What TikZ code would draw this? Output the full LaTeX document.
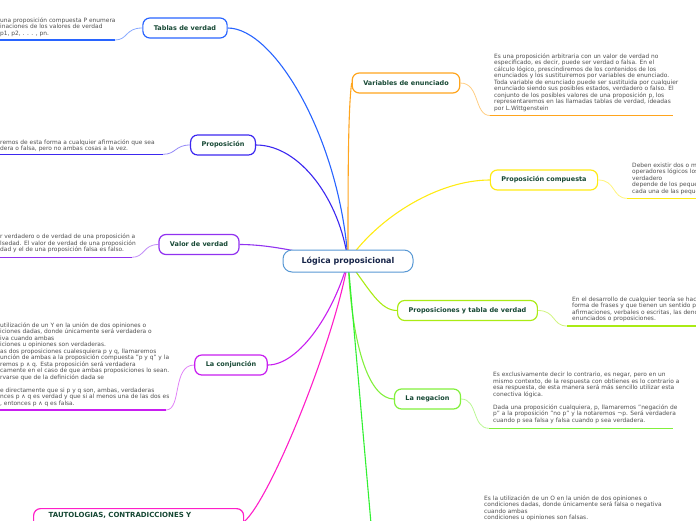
\documentclass[tikz,border=0pt]{standalone}
\usepackage{fontspec}
\setmainfont{DejaVu Sans}
\usetikzlibrary{backgrounds}
\definecolor{rootline}{RGB}{88,152,212}
\definecolor{roottext}{RGB}{22,36,72}
\definecolor{topictext}{RGB}{22,72,52}
\definecolor{leaftext}{RGB}{80,80,80}
\definecolor{cTablas}{RGB}{40,100,255}
\definecolor{cProp}{RGB}{60,40,240}
\definecolor{cValor}{RGB}{145,50,240}
\definecolor{cConj}{RGB}{200,30,240}
\definecolor{cTauto}{RGB}{255,30,200}
\definecolor{cVar}{RGB}{255,165,30}
\definecolor{cComp}{RGB}{255,235,20}
\definecolor{cTabla}{RGB}{170,235,20}
\definecolor{cNeg}{RGB}{130,240,60}
\definecolor{cDisy}{RGB}{50,240,50}
\tikzset{
	root/.style={draw=rootline, rounded corners=9pt, fill=white, line width=1pt, font=\fontsize{8}{10}\selectfont\bfseries, text=roottext, minimum width=130pt, minimum height=22pt},
	topic/.style={draw, rounded corners=7pt, fill=white, line width=1.2pt, font=\fontsize{6.5}{8}\selectfont\bfseries, text=topictext, inner xsep=11pt, minimum height=20pt},
	leaf/.style={anchor=north west, inner sep=0pt, align=left, font=\fontsize{5.9}{6.5}\selectfont, text=leaftext},
	branch/.style={line width=1.1pt},
	twig/.style={line width=0.8pt, draw opacity=0.55},
	rule/.style={line width=1.6pt}
}
\begin{document}
\begin{tikzpicture}[x=1pt,y=-1pt]
	\useasboundingbox (0,0) rectangle (696,520);
	\node[root] (logica) at (348,261) {Lógica proposicional};
	\node[topic,draw=cTablas] (tablas) at (185,28) {Tablas de verdad};
	\node[topic,draw=cProp] (prop) at (223,145) {Proposición};
	\node[topic,draw=cValor] (valor) at (199,244.5) {Valor de verdad};
	\node[topic,draw=cConj] (conj) at (231,365) {La conjunción};
	\node[topic,draw=cTauto,anchor=north west,text width=180pt,align=left,text depth=14pt,inner xsep=15pt,font=\fontsize{7}{8}\selectfont\bfseries] (tauto) at (33,508) {TAUTOLOGIAS, CONTRADICCIONES Y};
	\node[topic,draw=cVar] (variables) at (406,83) {Variables de enunciado};
	\node[topic,draw=cComp] (compuesta) at (544,180) {Proposición compuesta};
	\node[topic,draw=cTabla] (tabla) at (467.5,310.5) {Proposiciones y tabla de verdad};
	\node[topic,draw=cNeg] (negacion) at (427.5,399) {La negacion};
	\node[leaf] (tablasT) at (0,17.2) {una proposición compuesta P enumera\\inaciones de los valores de verdad\\p1, p2, . . . , pn.};
	\node[leaf] (propT) at (0,139.2) {remos de esta forma a cualquier afirmación que sea\\dera o falsa, pero no ambas cosas a la vez.};
	\node[leaf] (valorT) at (0,233.8) {r verdadero o de verdad de una proposición a\\lsedad. El valor de verdad de una proposición\\dad y el de una proposición falsa es falso.};
	\node[leaf] (conjT) at (0,322.2) {utilización de un Y en la unión de dos opiniones o\\iciones dadas, donde únicamente será verdadera o\\iva cuando ambas\\iciones u opiniones son verdaderas.\\as dos proposiciones cualesquiera p y q, llamaremos\\unción de ambas a la proposición compuesta "p y q" y la\\remos p ∧ q. Esta proposición será verdadera\\camente en el caso de que ambas proposiciones lo sean.\\rvarse que de la definición dada se\\[6.5pt]e directamente que si p y q son, ambas, verdaderas\\nces p ∧ q es verdad y que si al menos una de las dos es\\, entonces p ∧  q es falsa.};
	\node[leaf] (variablesT) at (494,53.2) {Es una proposición arbitraria con un valor de verdad no\\especificado, es decir, puede ser verdad o falsa. En el\\cálculo lógico, prescindiremos de los contenidos de los\\enunciados y los sustituiremos por variables de enunciado.\\Toda variable de enunciado puede ser sustituida por cualquier\\enunciado siendo sus posibles estados, verdadero o falso. El\\conjunto de los posibles valores de una proposición p, los\\representaremos en las llamadas tablas de verdad, ideadas\\por L.Wittgenstein};
	\node[leaf] (compuestaT) at (632,162.2) {Deben existir dos o más\\operadores lógicos los\\verdadero\\depende de los pequeños\\cada una de las pequeñas};
	\node[leaf] (tablaT) at (572,296.5) {En el desarrollo de cualquier teoría se hacen\\forma de frases y que tienen un sentido pleno\\afirmaciones, verbales o escritas, las denominamos\\enunciados o proposiciones.};
	\node[leaf] (negacionT) at (493,372.2) {Es exclusivamente decir lo contrario, es negar, pero en un\\mismo contexto, de la respuesta con obtienes es lo contrario a\\esa respuesta, de esta manera será más sencillo utilizar esta\\conectiva lógica.\\[6.5pt]Dada una proposición cualquiera, p, llamaremos "negación de\\p" a la proposición "no p" y la notaremos ¬p. Será verdadera\\cuando p sea falsa y falsa cuando p sea verdadera.};
	\node[leaf] (disyT) at (484,495.5) {Es la utilización de un O en la unión de dos opiniones o\\condiciones dadas, donde únicamente será falsa o negativa\\cuando ambas\\condiciones u opiniones son falsas.};
	\coordinate (disy) at (372,535);
	\begin{scope}[on background layer]
		\draw[branch,cTablas] (logica.center) .. controls (340,140) and (275,28) .. (tablas.east);
		\draw[branch,cProp] (logica.center) .. controls (340,200) and (300,145) .. (prop.east);
		\draw[branch,cValor] (logica.center) .. controls (310,255) and (275,244.5) .. (valor.east);
		\draw[branch,cConj] (logica.center) .. controls (335,310) and (300,365) .. (conj.east);
		\draw[branch,cTauto] (logica.center) .. controls (335,340) and (270,500) .. (tauto.east);
		\draw[branch,cVar] (logica.center) .. controls (348,180) and (348,110) .. (variables.west);
		\draw[branch,cComp] (logica.center) .. controls (380,215) and (440,180) .. (compuesta.west);
		\draw[branch,cTabla] (logica.center) .. controls (370,290) and (380,310.5) .. (tabla.west);
		\draw[branch,cNeg] (logica.center) .. controls (352,350) and (370,399) .. (negacion.west);
		\draw[branch,cDisy] (logica.center) -- (disy);
		\draw[twig,cTablas] (tablas.west) .. controls (125,28) and (128,40) .. (115,40);
		\draw[rule,cTablas] (115,40) -- (0,40);
		\draw[twig,cProp] (prop.west) .. controls (175,145) and (176,154.3) .. (163,154.3);
		\draw[rule,cProp] (163,154.3) -- (0,154.3);
		\draw[twig,cValor] (valor.west) .. controls (143,244.5) and (145,257.3) .. (132,257.3);
		\draw[rule,cValor] (132,257.3) -- (0,257.3);
		\draw[twig,cConj] (conj.west) .. controls (172,365) and (182,410) .. (166,410);
		\draw[rule,cConj] (166,410) -- (0,410);
		\draw[twig,cVar] (variables.east) .. controls (480,83) and (474,115.5) .. (490,115.5);
		\draw[rule,cVar] (490,115.5) -- (673,115.5);
		\draw[twig,cComp] (compuesta.east) .. controls (616,180) and (612,198.3) .. (627,198.3);
		\draw[rule,cComp] (627,198.3) -- (696,198.3);
		\draw[twig,cTabla] (tabla.east) .. controls (556,310.5) and (552,326) .. (567,326);
		\draw[rule,cTabla] (567,326) -- (696,326);
		\draw[twig,cNeg] (negacion.east) .. controls (478,399) and (472,428.3) .. (489,428.3);
		\draw[rule,cNeg] (489,428.3) -- (673,428.3);
	\end{scope}
\end{tikzpicture}
\end{document}
